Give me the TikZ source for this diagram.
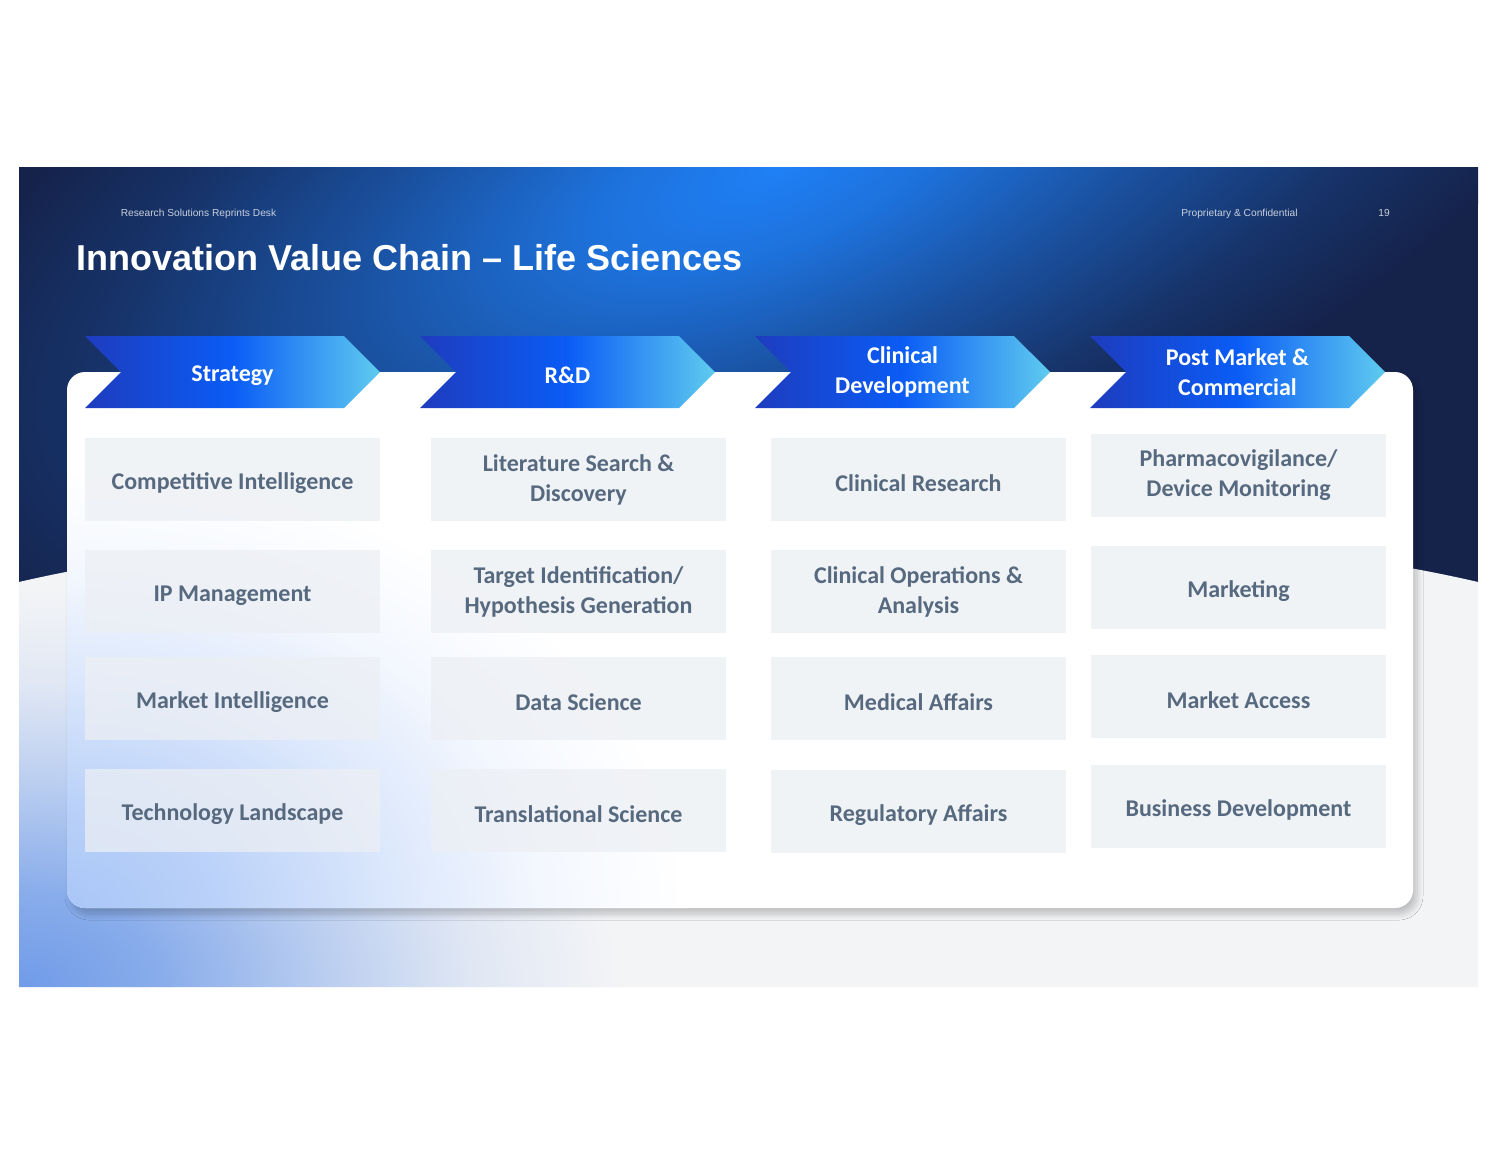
\documentclass[tikz,border=0pt]{standalone}
\usepackage{fontspec}
\setmainfont{Carlito}
\newfontfamily\hdfont{Liberation Sans}
\usetikzlibrary{shapes.symbols,shadows.blur}

\definecolor{navy}{HTML}{15224A}
\definecolor{glow}{HTML}{1F80F6}
\definecolor{paper}{HTML}{F3F4F6}
\definecolor{haze}{HTML}{6F9BE8}
\definecolor{cardhaze}{HTML}{A9C6F7}
\definecolor{chevdark}{HTML}{1E3CBE}
\definecolor{chevmid}{HTML}{0A5CF6}
\definecolor{chevlight}{HTML}{5FCBEF}
\definecolor{boxfill}{HTML}{ECEFF4}
\definecolor{boxtext}{HTML}{56697F}
\definecolor{hdgrey}{HTML}{C9D0DD}

% soft radial falloffs
\pgfdeclareradialshading{glowshade}{\pgfpoint{0bp}{0bp}}{color(0bp)=(glow); color(5bp)=(glow!85!navy); color(12bp)=(glow!50!navy); color(19bp)=(glow!18!navy); color(25bp)=(navy); color(50bp)=(navy)}
\pgfdeclareradialshading{floorshade}{\pgfpoint{0bp}{0bp}}{color(0bp)=(haze); color(6bp)=(haze!80!paper); color(13bp)=(haze!42!paper); color(19bp)=(haze!14!paper); color(25bp)=(paper); color(50bp)=(paper)}
\pgfdeclareradialshading{cardshade}{\pgfpoint{0bp}{0bp}}{color(0bp)=(cardhaze); color(6bp)=(cardhaze!80!white); color(13bp)=(cardhaze!42!white); color(19bp)=(cardhaze!14!white); color(25bp)=(white); color(50bp)=(white)}

\begin{document}
\begin{tikzpicture}[x=0.5pt,y=-0.5pt]

\tikzset{chev/.style={signal,signal from=west,signal to=east,signal pointer angle=90,minimum width=147.5pt,minimum height=36pt,inner sep=0pt,left color=chevdark,right color=chevlight,middle color=chevmid,text=white,font=\fontsize{12}{15}\selectfont\bfseries,align=center,execute at begin node={\rule{0pt}{11.5pt}}}}
\tikzset{box/.style={rectangle,minimum width=147.5pt,minimum height=41.5pt,inner sep=0pt,fill=boxfill,fill opacity=0.75,text opacity=1,text=boxtext,font=\fontsize{12}{15}\selectfont\bfseries,align=center,execute at begin node={\rule{0pt}{12pt}}}}
\tikzset{hd/.style={text=hdgrey,font=\hdfont\fontsize{5.1}{6}\selectfont,inner sep=0pt}}

\useasboundingbox[fill=white] (0,0) rectangle (1500,1158);

% slide background
\begin{scope}
\clip (19,167) rectangle (1478,987);
\fill[navy] (19,167) rectangle (1478,987);
\shade[shading=glowshade,transform canvas={rotate around={22:(780,165)}}] (780,165) ellipse (950 and 400);
\path[clip] (19,987) -- (19,582) .. controls (376,499) and (1121,499) .. (1478,582) -- (1478,987) -- cycle;
\fill[paper] (0,480) rectangle (1500,1000);
\shade[shading=floorshade] (19,987) ellipse (600 and 400);
\end{scope}

% card
\fill[white,rounded corners=9pt,blur shadow={shadow xshift=2pt,shadow yshift=-3pt,shadow blur radius=3pt,shadow blur steps=12,shadow opacity=22}] (67,372) rectangle (1413,908);
\begin{scope}
\clip[rounded corners=9pt] (67,372) rectangle (1413,908);
\shade[shading=cardshade] (67,908) ellipse (620 and 440);
\end{scope}

% header
\node[hd] (desk) at (198.5,213.5) {Research Solutions Reprints Desk};
\node[hd] (conf) at (1239.5,213.5) {Proprietary \& Confidential};
\node[hd] (page) at (1384,212.5) {19};
\node[anchor=west,inner sep=0pt,text=white,font=\hdfont\fontsize{18}{21}\selectfont\bfseries] (title) at (76,258) {Innovation Value Chain – Life Sciences};

% stages
\node[chev] (s1) at (232.5,372) {Strategy};
\node[chev] (s2) at (567.5,372) {R\&D};
\node[chev] (s3) at (902.5,372) {Clinical\\Development};
\node[chev] (s4) at (1237.5,372) {Post Market \&\\Commercial};

% strategy
\node[box] (a1) at (232.5,479.5) {Competitive Intelligence};
\node[box] (a2) at (232.5,591.5) {IP Management};
\node[box] (a3) at (232.5,698.5) {Market Intelligence};
\node[box] (a4) at (232.5,810.5) {Technology Landscape};

% r&d
\node[box] (b1) at (578.5,479.5) {Literature Search \&\\Discovery};
\node[box] (b2) at (578.5,591.5) {Target Identification/\\Hypothesis Generation};
\node[box] (b3) at (578.5,698.5) {Data Science};
\node[box] (b4) at (578.5,810.5) {Translational Science};

% clinical
\node[box] (c1) at (918.5,479.5) {Clinical Research};
\node[box] (c2) at (918.5,591.5) {Clinical Operations \&\\Analysis};
\node[box] (c3) at (918.5,698.5) {Medical Affairs};
\node[box] (c4) at (918.5,811.5) {Regulatory Affairs};

% post market
\node[box] (d1) at (1238.5,475.5) {Pharmacovigilance/\\Device Monitoring};
\node[box] (d2) at (1238.5,587.5) {Marketing};
\node[box] (d3) at (1238.5,696.5) {Market Access};
\node[box] (d4) at (1238.5,806.5) {Business Development};

\end{tikzpicture}
\end{document}
